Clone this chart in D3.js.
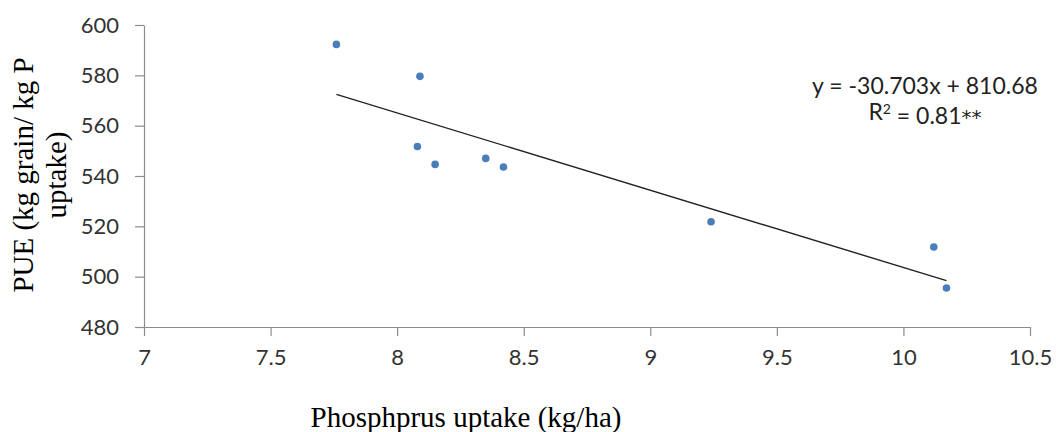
<!DOCTYPE html>
<html>
<head>
<meta charset="utf-8">
<script src="https://cdn.jsdelivr.net/npm/d3@7"></script>
<style>
  html, body { margin: 0; padding: 0; background: #fff; }
  svg { display: block; }
</style>
</head>
<body>
<svg id="chart" width="1056" height="432"></svg>
<script>
// Data
const uptake = [7.76, 8.09, 8.08, 8.15, 8.35, 8.42, 9.24, 10.12, 10.17];
const pue    = [592.3, 579.6, 551.7, 544.6, 547.0, 543.6, 521.8, 511.8, 495.5];
const xTicks = [7, 7.5, 8, 8.5, 9, 9.5, 10, 10.5];
const yTicks = [480, 500, 520, 540, 560, 580, 600];
const slope = -30.703;
const intercept = 810.68;
const eqLabel = "y = -30.703x + 810.68";
const r2Label = "0.81**";
const xTitle = "Phosphprus uptake (kg/ha)";
const yTitleLines = ["PUE (kg grain/ kg P", "uptake)"];

const svg = d3.select("#chart");
const x = d3.scaleLinear().domain([7, 10.5]).range([144, 1030]);
const y = d3.scaleLinear().domain([480, 600]).range([327, 25]);

const axisColor = "#8c8c8c";
const tickFont = "Lato, 'Open Sans', sans-serif";

// Y axis
const yAxis = svg.append("g").attr("transform", `translate(${x(7)},0)`)
  .call(d3.axisLeft(y).tickValues(yTicks).tickSize(9).tickSizeOuter(0).tickPadding(16));
// X axis
const xAxis = svg.append("g").attr("transform", `translate(0,${y(480)})`)
  .call(d3.axisBottom(x).tickValues(xTicks).tickSize(9).tickSizeOuter(0).tickPadding(13)
    .tickFormat(d => String(d)));

[yAxis, xAxis].forEach(g => {
  g.select(".domain").attr("stroke", axisColor).attr("stroke-width", 1.2);
  g.selectAll(".tick line").attr("stroke", axisColor).attr("stroke-width", 1.2);
  g.selectAll(".tick text").attr("fill", "#333").style("font-family", tickFont).style("font-size", "22px");
});

// Trend line over data extent
const xmin = d3.min(uptake), xmax = d3.max(uptake);
svg.append("line")
  .attr("x1", x(xmin)).attr("y1", y(slope * xmin + intercept))
  .attr("x2", x(xmax)).attr("y2", y(slope * xmax + intercept))
  .attr("stroke", "#222").attr("stroke-width", 1.4);

// Points
svg.append("g").selectAll("circle").data(uptake).join("circle")
  .attr("cx", (d) => x(d))
  .attr("cy", (d, i) => y(pue[i]))
  .attr("r", 3.8)
  .attr("fill", "#4a7ebb");

// Equation labels
svg.append("text").attr("x", 925).attr("y", 86).attr("dy", "0.35em")
  .attr("text-anchor", "middle").style("font-family", tickFont).style("font-size", "23px")
  .attr("fill", "#222").text(eqLabel);
const r2 = svg.append("text").attr("x", 925).attr("y", 112).attr("dy", "0.35em")
  .attr("text-anchor", "middle").style("font-family", tickFont).style("font-size", "23px")
  .attr("fill", "#222");
r2.append("tspan").text("R");
r2.append("tspan").attr("dy", "-0.45em").style("font-size", "14px").text("2");
r2.append("tspan").attr("dy", "0.45em").text(" = 0.81");
r2.append("tspan").style("font-family", "'DejaVu Sans', sans-serif").style("font-size", "20px").text("**");

// Axis titles
const serif = "'Liberation Serif', 'Times New Roman', serif";
svg.append("text").attr("x", 466).attr("y", 427)
  .attr("text-anchor", "middle").style("font-family", serif).style("font-size", "29px")
  .attr("fill", "#000").text(xTitle);

const yt = svg.append("g");
yTitleLines.forEach((t, i) => {
  yt.append("text")
    .attr("transform", `translate(${33 + i * 33},175) rotate(-90)`)
    .attr("text-anchor", "middle").style("font-family", serif).style("font-size", "29px")
    .attr("fill", "#000").text(t);
});
</script>
</body>
</html>
